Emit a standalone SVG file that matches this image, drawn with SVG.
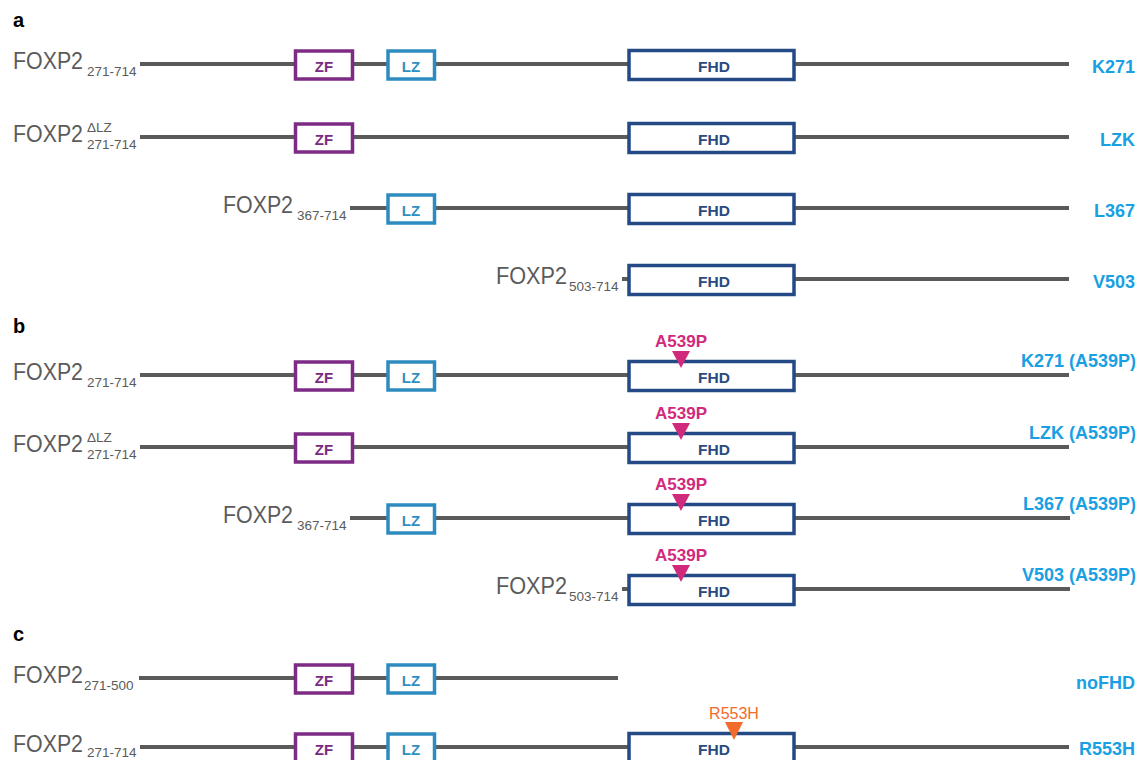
<svg xmlns="http://www.w3.org/2000/svg" width="1146" height="760" viewBox="0 0 1146 760">
<style>
text{font-family:"Liberation Sans",Arial,sans-serif}
.pl{font-size:20px;font-weight:bold;fill:#000}
.nm{font-size:24px;fill:#5b5b5b}
.sb{font-size:13.5px;fill:#5b5b5b}
.bb{stroke:#5a5a5a;stroke-width:4;fill:none}
.zf{fill:#fff;stroke:#7d2b85;stroke-width:3.5}
.lz{fill:#fff;stroke:#2e8bc0;stroke-width:3.5}
.fh{fill:#fff;stroke:#234a85;stroke-width:3.5}
.tz{font-size:15px;font-weight:bold;fill:#7b2a82;text-anchor:middle}
.tl{font-size:15px;font-weight:bold;fill:#2f8fc0;text-anchor:middle}
.tf{font-size:15.5px;font-weight:bold;fill:#2a4a80;text-anchor:middle}
.rl{font-size:18px;font-weight:bold;fill:#19a0e3;text-anchor:end}
.mt{font-size:17px;font-weight:bold;fill:#d12a7c;text-anchor:middle}
.mtri{fill:#d12a7c}
.rt{font-size:16px;fill:#f26b2a;text-anchor:middle}
.rtri{fill:#f26b2a}
</style>
<defs>
<g id="zfbox"><rect class="zf" x="295.5" y="-13" width="57" height="28"/><text class="tz" x="324" y="7.5">ZF</text></g>
<g id="lzbox"><rect class="lz" x="388" y="-13" width="46.5" height="28"/><text class="tl" x="411" y="7.5">LZ</text></g>
<g id="fhbox"><rect class="fh" x="629" y="-13.5" width="165" height="29"/><text class="tf" x="714" y="8">FHD</text></g>
<g id="mut"><polygon class="mtri" points="672,-24 690,-24 681,-7"/><text class="mt" x="681" y="-28">A539P</text></g>
</defs>
<text class="pl" x="13" y="27">a</text>
<text class="pl" x="13" y="333">b</text>
<text class="pl" x="13" y="641">c</text>

<g id="a1" transform="translate(0,64)">
<line class="bb" x1="140" y1="0" x2="1069" y2="0"/>
<use href="#zfbox"/><use href="#lzbox"/><use href="#fhbox"/>
<text class="nm" x="13" y="5" textLength="70" lengthAdjust="spacingAndGlyphs">FOXP2</text><text class="sb" x="87" y="12">271-714</text>
<text class="rl" x="1135" y="9">K271</text>
</g>
<g id="a2" transform="translate(0,137)">
<line class="bb" x1="140" y1="0" x2="1069" y2="0"/>
<use href="#zfbox"/><use href="#fhbox"/>
<text class="nm" x="13" y="5" textLength="70" lengthAdjust="spacingAndGlyphs">FOXP2</text><text class="sb" x="87" y="12">271-714</text><text class="sb" x="87" y="-5">ΔLZ</text>
<text class="rl" x="1135" y="9">LZK</text>
</g>
<g id="a3" transform="translate(0,208)">
<line class="bb" x1="350" y1="0" x2="1069" y2="0"/>
<use href="#lzbox"/><use href="#fhbox"/>
<text class="nm" x="223" y="5" textLength="70" lengthAdjust="spacingAndGlyphs">FOXP2</text><text class="sb" x="297" y="12">367-714</text>
<text class="rl" x="1135" y="9">L367</text>
</g>
<g id="a4" transform="translate(0,279)">
<line class="bb" x1="622" y1="0" x2="1069" y2="0"/>
<use href="#fhbox"/>
<text class="nm" x="496" y="5" textLength="71" lengthAdjust="spacingAndGlyphs">FOXP2</text><text class="sb" x="569" y="12">503-714</text>
<text class="rl" x="1135" y="9">V503</text>
</g>

<g id="b1" transform="translate(0,375)">
<line class="bb" x1="140" y1="0" x2="1069" y2="0"/>
<use href="#zfbox"/><use href="#lzbox"/><use href="#fhbox"/><use href="#mut"/>
<text class="nm" x="13" y="5" textLength="70" lengthAdjust="spacingAndGlyphs">FOXP2</text><text class="sb" x="87" y="12">271-714</text>
<text class="rl" x="1136" y="-8">K271 (A539P)</text>
</g>
<g id="b2" transform="translate(0,447)">
<line class="bb" x1="140" y1="0" x2="1069" y2="0"/>
<use href="#zfbox"/><use href="#fhbox"/><use href="#mut"/>
<text class="nm" x="13" y="5" textLength="70" lengthAdjust="spacingAndGlyphs">FOXP2</text><text class="sb" x="87" y="12">271-714</text><text class="sb" x="87" y="-5">ΔLZ</text>
<text class="rl" x="1136" y="-8">LZK (A539P)</text>
</g>
<g id="b3" transform="translate(0,518)">
<line class="bb" x1="350" y1="0" x2="1070" y2="0"/>
<use href="#lzbox"/><use href="#fhbox"/><use href="#mut"/>
<text class="nm" x="223" y="5" textLength="70" lengthAdjust="spacingAndGlyphs">FOXP2</text><text class="sb" x="297" y="12">367-714</text>
<text class="rl" x="1136" y="-8">L367 (A539P)</text>
</g>
<g id="b4" transform="translate(0,589)">
<line class="bb" x1="622" y1="0" x2="1070" y2="0"/>
<use href="#fhbox"/><use href="#mut"/>
<text class="nm" x="496" y="5" textLength="71" lengthAdjust="spacingAndGlyphs">FOXP2</text><text class="sb" x="569" y="12">503-714</text>
<text class="rl" x="1136" y="-8">V503 (A539P)</text>
</g>

<g id="c1" transform="translate(0,678)">
<line class="bb" x1="139" y1="0" x2="618" y2="0"/>
<use href="#zfbox"/><use href="#lzbox"/>
<text class="nm" x="13" y="5" textLength="70" lengthAdjust="spacingAndGlyphs">FOXP2</text><text class="sb" x="84" y="12">271-500</text>
<text class="rl" x="1135" y="11">noFHD</text>
</g>
<g id="c2" transform="translate(0,747)">
<line class="bb" x1="140" y1="0" x2="1069" y2="0"/>
<use href="#zfbox"/><use href="#lzbox"/><use href="#fhbox"/>
<polygon class="rtri" points="725,-25 743,-25 734,-7"/><text class="rt" x="734" y="-28">R553H</text>
<text class="nm" x="13" y="5" textLength="70" lengthAdjust="spacingAndGlyphs">FOXP2</text><text class="sb" x="87" y="10">271-714</text>
<text class="rl" x="1135" y="8">R553H</text>
</g>
<g id="connectors"></g>
</svg>
